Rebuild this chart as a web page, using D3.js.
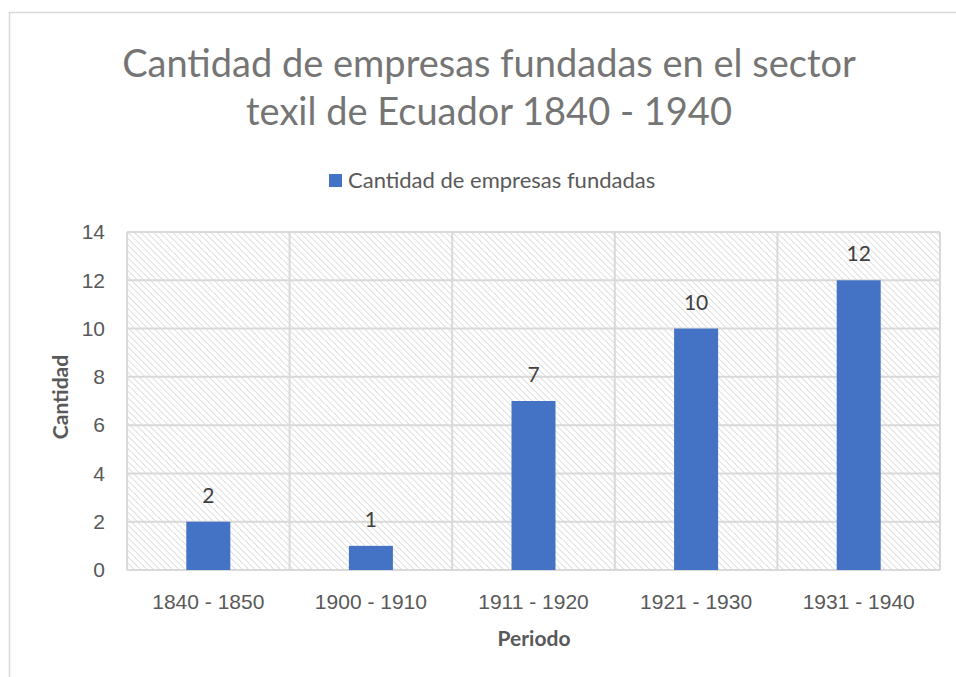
<!DOCTYPE html>
<html>
<head>
<meta charset="utf-8">
<script src="https://cdn.jsdelivr.net/npm/d3@7"></script>
<style>
  body { margin: 0; background: #fff; }
  svg { display: block; font-family: Lato, "Open Sans", sans-serif; }
</style>
</head>
<body>
<svg id="chart"></svg>
<script>
// Chart data
const periods = ['1840 - 1850', '1900 - 1910', '1911 - 1920', '1921 - 1930', '1931 - 1940'];
const counts = [2, 1, 7, 10, 12];
const yTicks = [0, 2, 4, 6, 8, 10, 12, 14];

const width = 956, height = 677;
const margin = { top: 232, right: 16, bottom: 107, left: 127 };
const innerW = width - margin.left - margin.right;
const innerH = height - margin.top - margin.bottom;

const svg = d3.select('#chart').attr('width', width).attr('height', height);

// hatch pattern for the plot background
const defs = svg.append('defs');
const pat = defs.append('pattern')
  .attr('id', 'hatch')
  .attr('patternUnits', 'userSpaceOnUse')
  .attr('width', 4.5).attr('height', 4.5)
  .attr('patternTransform', 'rotate(-45)');
pat.append('rect').attr('width', 4.5).attr('height', 4.5).attr('fill', '#fff');
pat.append('line')
  .attr('x1', 0).attr('y1', 0).attr('x2', 0).attr('y2', 4.5)
  .attr('stroke', '#dcdcdc').attr('stroke-width', 1.8);

// chart border
svg.append('rect')
  .attr('x', 9.5).attr('y', 12.5)
  .attr('width', width).attr('height', height)
  .attr('fill', 'none').attr('stroke', '#d9d9d9').attr('stroke-width', 1.5);

// title
const title = svg.append('text')
  .attr('text-anchor', 'middle')
  .attr('fill', '#757575')
  .attr('font-size', 38);
title.append('tspan').attr('x', 489).attr('y', 77).text('Cantidad de empresas fundadas en el sector');
title.append('tspan').attr('x', 489).attr('y', 125).text('texil de Ecuador 1840 - 1940');

// legend
const legend = svg.append('g').attr('transform', 'translate(329,174)');
legend.append('rect').attr('width', 13).attr('height', 13).attr('fill', '#4472C4');
legend.append('text')
  .attr('x', 19).attr('y', 14)
  .attr('fill', '#595959').attr('font-size', 22)
  .text('Cantidad de empresas fundadas');

const x = d3.scaleBand().domain(periods).range([0, innerW]).paddingInner(0).paddingOuter(0);
const y = d3.scaleLinear().domain([0, 14]).range([innerH, 0]);

const g = svg.append('g').attr('transform', `translate(${margin.left},${margin.top})`);

g.append('rect')
  .attr('width', innerW).attr('height', innerH)
  .attr('fill', 'url(#hatch)');

// horizontal gridlines
g.append('g')
  .selectAll('line')
  .data(yTicks)
  .join('line')
  .attr('x1', 0).attr('x2', innerW)
  .attr('y1', d => y(d)).attr('y2', d => y(d))
  .attr('stroke', '#d9d9d9').attr('stroke-width', 2);

// vertical gridlines at category boundaries
const bounds = periods.map(p => x(p)).concat([innerW]);
g.append('g')
  .selectAll('line')
  .data(bounds)
  .join('line')
  .attr('x1', d => d).attr('x2', d => d)
  .attr('y1', 0).attr('y2', innerH)
  .attr('stroke', '#d9d9d9').attr('stroke-width', 2);

// bars
const barW = 44;
g.append('g')
  .selectAll('rect')
  .data(counts)
  .join('rect')
  .attr('x', (d, i) => x(periods[i]) + x.bandwidth() / 2 - barW / 2)
  .attr('y', d => y(d))
  .attr('width', barW)
  .attr('height', d => innerH - y(d))
  .attr('fill', '#4472C4');

// value labels
g.append('g')
  .selectAll('text')
  .data(counts)
  .join('text')
  .attr('x', (d, i) => x(periods[i]) + x.bandwidth() / 2)
  .attr('y', d => y(d) - 19)
  .attr('text-anchor', 'middle')
  .attr('fill', '#404040').attr('font-size', 21)
  .text(d => d);

// y axis labels
const yAxis = g.append('g')
  .call(d3.axisLeft(y).tickValues(yTicks).tickSize(0).tickPadding(22));
yAxis.select('.domain').remove();
yAxis.selectAll('text').attr('fill', '#595959').attr('font-size', 21).attr('font-family', null);

// x axis labels
const xAxis = g.append('g')
  .attr('transform', `translate(0,${innerH})`)
  .call(d3.axisBottom(x).tickSize(0).tickPadding(24));
xAxis.select('.domain').remove();
xAxis.selectAll('text').attr('fill', '#595959').attr('font-size', 21).attr('font-family', null);

// axis titles
svg.append('text')
  .attr('x', 534).attr('y', 646)
  .attr('text-anchor', 'middle')
  .attr('fill', '#595959').attr('font-size', 21).attr('font-weight', 'bold')
  .text('Periodo');

svg.append('text')
  .attr('transform', 'translate(68,397) rotate(-90)')
  .attr('text-anchor', 'middle')
  .attr('fill', '#595959').attr('font-size', 21).attr('font-weight', 'bold')
  .text('Cantidad');
</script>
</body>
</html>
